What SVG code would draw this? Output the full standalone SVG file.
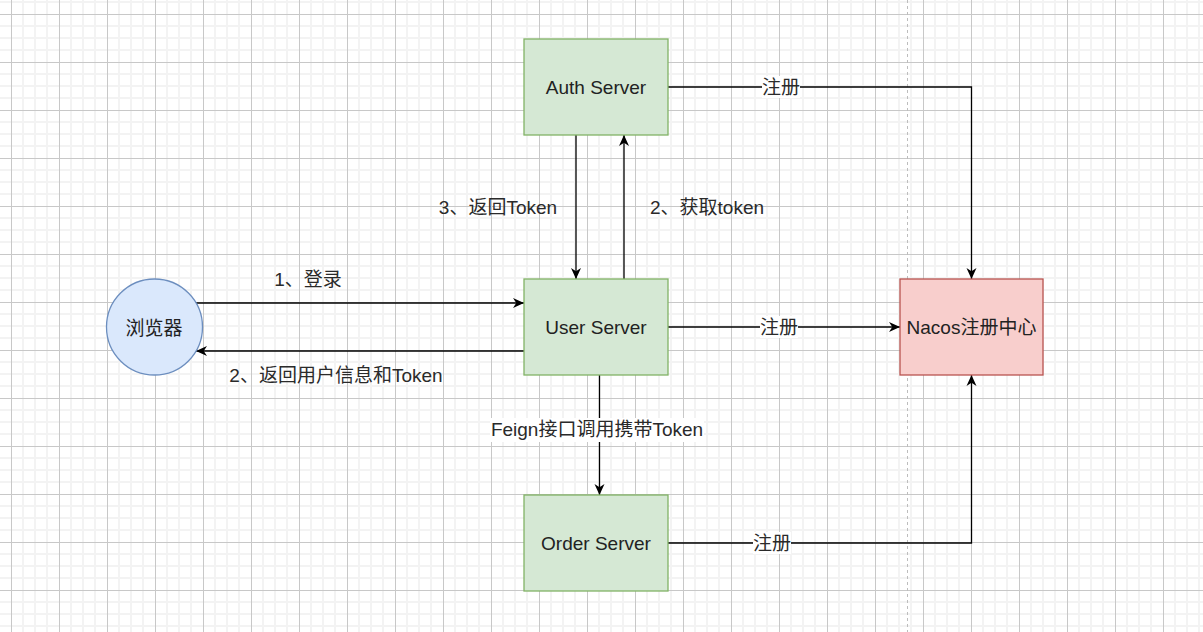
<svg xmlns="http://www.w3.org/2000/svg" width="1203" height="632" viewBox="0 0 1203 632">
  <style>
    .box-g { fill: #d5e8d4; stroke: #82b366; stroke-width: 1.3; }
    .box-r { fill: #f8cecc; stroke: #b85450; stroke-width: 1.3; }
    .box-b { fill: #dae8fc; stroke: #6c8ebf; stroke-width: 1.3; }
    .node-text { font-family: "Liberation Sans", "Noto Sans CJK SC", sans-serif; font-size: 19px; fill: #222222; text-anchor: middle; }
    .edge { fill: none; stroke: #000; stroke-width: 1.3; }
    .arrow { marker-end: url(#arrow); }
    .label { font-family: "Liberation Sans", "Noto Sans CJK SC", sans-serif; font-size: 19px; fill: #2a2a2a; text-anchor: middle; }
    .label-bg { fill: #ffffff; }
  </style>
  <defs>
    <pattern id="grid" patternUnits="userSpaceOnUse" x="11" y="14" width="48" height="48">
      <path d="M12,0 V48 M24,0 V48 M36,0 V48 M0,12 H48 M0,24 H48 M0,36 H48" stroke="#f3f3f3" stroke-width="2" fill="none"/>
      <path d="M0.5,0 V48 M0,0.5 H48" stroke="#c8c8c8" stroke-width="1" fill="none"/>
    </pattern>
    <marker id="arrow" markerUnits="userSpaceOnUse" viewBox="0 0 11 11" refX="11" refY="5.5" markerWidth="11" markerHeight="11" orient="auto">
      <path d="M0,0.5 L11,5.5 L0,10.5 L3.3,5.5 Z" fill="#000"/>
    </marker>
  </defs>

  <rect x="0" y="0" width="1203" height="632" fill="#ffffff"/>
  <rect x="0" y="0" width="1203" height="632" fill="url(#grid)"/>
  <line x1="907.5" y1="0" x2="907.5" y2="632" stroke="#bdbdbd" stroke-width="1" stroke-dasharray="3 3"/>

  <g id="connectors">
    <path class="edge arrow" d="M668,87 H971.5 V279"/>
    <path class="edge arrow" d="M576,135 V279"/>
    <path class="edge arrow" d="M624,279 V135"/>
    <path class="edge arrow" d="M196,303 H524"/>
    <path class="edge arrow" d="M524,351 H196"/>
    <path class="edge arrow" d="M668,327 H900"/>
    <path class="edge arrow" d="M599.5,375 V495"/>
    <path class="edge arrow" d="M668,543 H971.5 V375"/>

    <rect class="label-bg" x="762" y="76" width="38" height="22"/>
    <text class="label" x="781" y="94">注册</text>
    <rect class="label-bg" x="760" y="316" width="38" height="22"/>
    <text class="label" x="779" y="334">注册</text>
    <rect class="label-bg" x="753" y="532" width="38" height="22"/>
    <text class="label" x="772" y="550">注册</text>
    <rect class="label-bg" x="490" y="418" width="214" height="24"/>
    <text class="label" x="597" y="436">Feign接口调用携带Token</text>
    <text class="label" x="498" y="214">3、返回Token</text>
    <text class="label" x="707" y="214">2、获取token</text>
    <text class="label" x="308" y="286">1、登录</text>
    <text class="label" x="336" y="382">2、返回用户信息和Token</text>
  </g>

  <g id="auth-server">
    <rect class="box-g" x="524" y="39" width="144" height="96"/>
    <text class="node-text" x="596" y="94">Auth Server</text>
  </g>
  <g id="user-server">
    <rect class="box-g" x="524" y="279" width="144" height="96"/>
    <text class="node-text" x="596" y="334">User Server</text>
  </g>
  <g id="order-server">
    <rect class="box-g" x="524" y="495" width="144" height="96"/>
    <text class="node-text" x="596" y="550">Order Server</text>
  </g>
  <g id="nacos">
    <rect class="box-r" x="900" y="279" width="143" height="96"/>
    <text class="node-text" x="971.5" y="334">Nacos注册中心</text>
  </g>
  <g id="browser">
    <circle class="box-b" cx="154.5" cy="327" r="48"/>
    <text class="node-text" x="154" y="335">浏览器</text>
  </g>
</svg>
